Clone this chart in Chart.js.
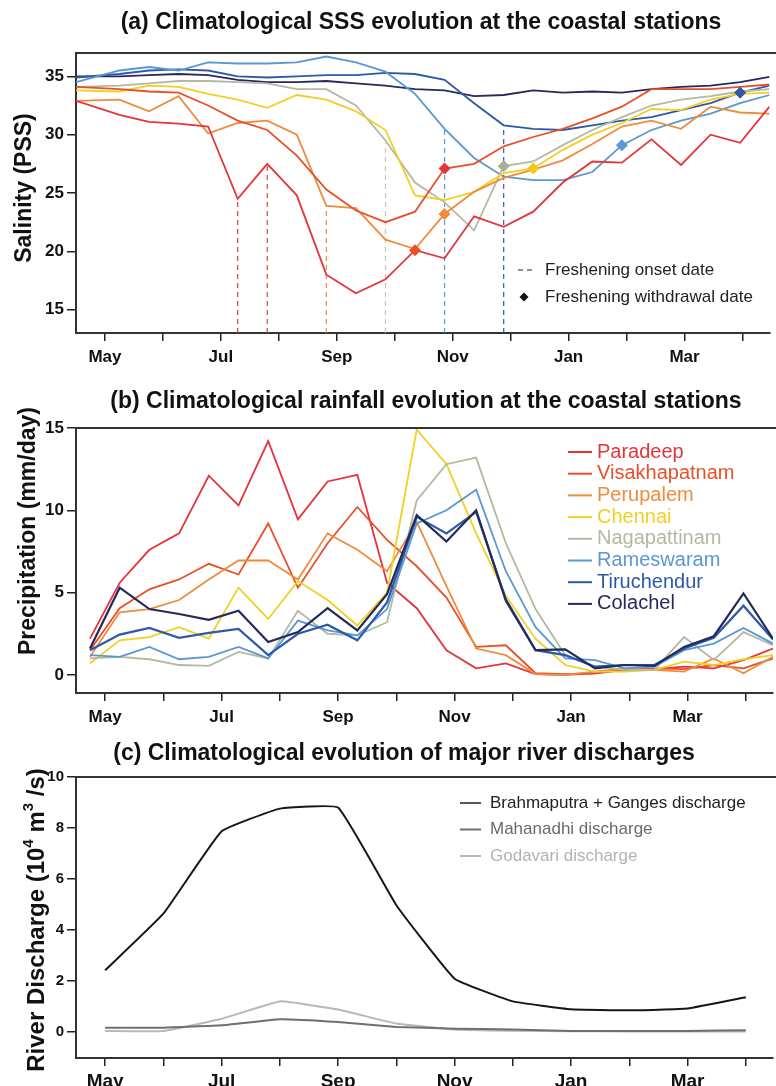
<!DOCTYPE html>
<html>
<head>
<meta charset="utf-8">
<script src="https://cdn.jsdelivr.net/npm/chart.js@4.4.0/dist/chart.umd.min.js"></script>
<style>
  html,body{margin:0;padding:0;background:#fff;}
  #wrap{position:relative;width:776px;height:1086px;overflow:hidden;}
  canvas{position:absolute;left:0;}
</style>
</head>
<body>
<div id="wrap">
  <canvas id="sss" width="776" height="370" style="top:0"></canvas>
  <canvas id="rain" width="776" height="360" style="top:370px"></canvas>
  <canvas id="river" width="776" height="356" style="top:730px"></canvas>
</div>
<script>
const FONT = "'Liberation Sans', Arial, Helvetica, sans-serif";

// x axis: days from 1 May, one tick per month
const monthDays = [0, 30, 60, 90, 120, 150, 180, 210, 240, 270, 300, 330];
const monthLabels = ['May', '', 'Jul', '', 'Sep', '', 'Nov', '', 'Jan', '', 'Mar', ''];

const stations = ['Paradeep', 'Visakhapatnam', 'Perupalem', 'Chennai', 'Nagapattinam', 'Rameswaram', 'Tiruchendur', 'Colachel'];
const stationColors = ['#e4343c', '#e8502a', '#ee8c3c', '#f2cf22', '#b3b9a3', '#5b97d1', '#2c5aa6', '#252a5a'];

// (a) salinity, semi-monthly
const sssDays = [-15, 7.5, 22.8, 38.1, 53.4, 68.7, 84, 99.3, 114.6, 129.9, 145.2, 160.5, 175.8, 191.1, 206.4, 221.7, 237, 252.3, 267.6, 282.9, 298.2, 313.5, 328.8, 344];
const sssParadeep = [32.9, 31.7, 31.1, 30.95, 30.7, 24.5, 27.5, 24.8, 18.0, 16.4, 17.6, 20.1, 19.4, 23.0, 22.1, 23.4, 25.9, 27.7, 27.6, 29.6, 27.4, 30.0, 29.3, 32.4];
const sssVisakhapatnam = [34.1, 33.9, 33.7, 33.6, 32.5, 31.2, 30.4, 28.2, 25.3, 23.5, 22.5, 23.4, 27.1, 27.5, 29.0, 29.8, 30.5, 31.4, 32.4, 33.9, 33.9, 33.9, 34.1, 34.3];
const sssPerupalem = [32.9, 33.0, 32.0, 33.3, 30.1, 31.0, 31.2, 30.0, 23.9, 23.7, 21.0, 20.2, 23.2, 25.1, 26.3, 27.0, 27.8, 29.2, 30.7, 31.2, 30.5, 32.4, 31.9, 31.8];
const sssChennai = [33.8, 33.7, 34.2, 34.1, 33.5, 33.0, 32.3, 33.4, 33.0, 32.0, 30.4, 24.8, 24.4, 25.1, 26.7, 27.1, 28.7, 30.0, 31.0, 32.2, 32.1, 33.0, 33.5, 33.6];
const sssNagapattinam = [34.1, 34.2, 34.4, 34.6, 34.6, 34.5, 34.4, 33.9, 33.9, 32.5, 29.5, 25.9, 24.2, 21.8, 27.3, 27.7, 29.1, 30.4, 31.5, 32.5, 33.0, 33.3, 33.7, 33.9];
const sssRameswaram = [34.5, 35.5, 35.8, 35.5, 36.2, 36.1, 36.1, 36.2, 36.7, 36.2, 35.4, 33.5, 30.5, 28.0, 26.4, 26.1, 26.1, 26.8, 29.1, 30.4, 31.2, 31.8, 32.7, 33.4];
const sssTiruchendur = [34.9, 35.2, 35.5, 35.6, 35.5, 35.0, 34.9, 35.0, 35.1, 35.1, 35.3, 35.2, 34.7, 32.7, 30.8, 30.5, 30.4, 30.8, 31.2, 31.5, 32.1, 32.7, 33.6, 34.2];
const sssColachel = [35.0, 35.0, 35.1, 35.2, 35.1, 34.7, 34.5, 34.5, 34.6, 34.4, 34.2, 33.9, 33.8, 33.3, 33.4, 33.8, 33.6, 33.7, 33.6, 33.9, 34.1, 34.2, 34.5, 34.95];
const sssSeries = [sssParadeep, sssVisakhapatnam, sssPerupalem, sssChennai, sssNagapattinam, sssRameswaram, sssTiruchendur, sssColachel];

// freshening onset (dashed) and withdrawal (diamonds)
const onsetDays = [68.7, 84, 114.6, 145.2, 175.8, 206.4];
const onsetSss = [24.5, 27.5, 23.8, 29.3, 30.4, 30.8];
const onsetColors = ['#e4343c', '#d24a3a', '#ee8c3c', '#c9c2b8', '#5b97d1', '#2c5aa6'];
const withdrawalDays = [160.5, 175.8, 175.8, 206.4, 221.7, 267.6, 328.8];
const withdrawalSss = [20.1, 27.1, 23.2, 27.3, 27.1, 29.1, 33.6];
const withdrawalColors = ['#e8502a', '#e4343c', '#ee8c3c', '#a9ae9a', '#f2c81f', '#5b97d1', '#2c5aa6'];

// (b) rainfall, semi-monthly
const rainDays = [-7.8, 7.5, 22.8, 38.1, 53.4, 68.7, 84, 99.3, 114.6, 129.9, 145.2, 160.5, 175.8, 191.1, 206.4, 221.7, 237, 252.3, 267.6, 282.9, 298.2, 313.5, 328.8, 344];
const rainParadeep = [2.2, 5.6, 7.6, 8.6, 12.1, 10.3, 14.2, 9.45, 11.75, 12.15, 5.6, 4.05, 1.5, 0.4, 0.7, 0.05, 0.0, 0.1, 0.3, 0.35, 0.5, 0.4, 0.9, 1.6];
const rainVisakhapatnam = [1.5, 4.05, 5.2, 5.8, 6.75, 6.1, 9.2, 5.3, 8.0, 10.2, 8.2, 6.6, 4.7, 1.7, 1.8, 0.1, 0.05, 0.1, 0.3, 0.4, 0.35, 0.6, 0.4, 1.0];
const rainPerupalem = [1.1, 3.8, 4.0, 4.55, 5.8, 6.95, 6.95, 5.8, 8.6, 7.6, 6.3, 9.3, 5.4, 1.6, 1.2, 0.05, 0.0, 0.2, 0.4, 0.3, 0.2, 1.0, 0.1, 1.1];
const rainChennai = [0.7, 2.1, 2.3, 2.9, 2.2, 5.3, 3.4, 5.7, 4.55, 3.0, 5.0, 14.9, 12.8, 8.6, 4.8, 2.2, 0.6, 0.2, 0.2, 0.3, 0.8, 0.6, 0.95, 1.2];
const rainNagapattinam = [1.0, 1.1, 0.95, 0.6, 0.55, 1.4, 1.0, 3.9, 2.5, 2.4, 3.2, 10.6, 12.8, 13.2, 8.0, 4.0, 1.2, 0.5, 0.3, 0.3, 2.3, 0.9, 2.6, 1.8];
const rainRameswaram = [1.2, 1.1, 1.7, 0.95, 1.1, 1.7, 1.0, 3.3, 2.7, 2.4, 4.0, 9.2, 10.0, 11.25, 6.3, 2.9, 1.0, 0.9, 0.4, 0.5, 1.5, 1.9, 2.85, 1.9];
const rainTiruchendur = [1.5, 2.45, 2.85, 2.25, 2.55, 2.8, 1.2, 2.5, 3.05, 2.1, 4.4, 9.6, 8.6, 9.9, 4.6, 1.5, 1.2, 0.5, 0.6, 0.6, 1.6, 2.25, 4.2, 2.15];
const rainColachel = [1.6, 5.3, 4.0, 3.7, 3.35, 3.9, 2.0, 2.6, 4.05, 2.7, 4.9, 9.7, 8.1, 10.0, 4.5, 1.5, 1.55, 0.4, 0.6, 0.55, 1.7, 2.35, 4.95, 2.2];
const rainSeries = [rainParadeep, rainVisakhapatnam, rainPerupalem, rainChennai, rainNagapattinam, rainRameswaram, rainTiruchendur, rainColachel];

// (c) river discharge, monthly (10^4 m3/s)
const riverNames = ['Brahmaputra + Ganges discharge', 'Mahanadhi discharge', 'Godavari discharge'];
const riverColors = ['#161616', '#6f6f6f', '#b8b8b8'];
const riverLegendColors = ['#222', '#6a6a6a', '#b2b2b2'];
const brahmaputraGanges = [2.42, 4.64, 7.87, 8.76, 8.8, 4.97, 2.09, 1.2, 0.89, 0.85, 0.92, 1.36];
const mahanadhi = [0.17, 0.17, 0.26, 0.5, 0.39, 0.2, 0.13, 0.1, 0.04, 0.04, 0.04, 0.07];
const godavari = [0.04, 0.04, 0.52, 1.2, 0.88, 0.33, 0.1, 0.05, 0.03, 0.02, 0.02, 0.02];
const riverSeries = [brahmaputraGanges, mahanadhi, godavari];

function pts(days, vals){ return days.map((d, i) => ({ x: d, y: vals[i] })); }

function axes(o){
  return {
    x: {
      type: 'linear', min: -15, max: 344,
      afterBuildTicks: s => { s.ticks = monthDays.map(v => ({ value: v })); },
      afterFit: s => { s.height = o.xHeight; },
      grid: { drawOnChartArea: false, drawTicks: true, tickLength: 8, color: '#222', lineWidth: 1.5 },
      border: { display: true, color: '#333', width: 2 },
      ticks: { autoSkip: false, maxRotation: 0, padding: o.xPad, color: '#111',
               font: { family: FONT, size: o.xFont, weight: 'bold' },
               callback: (v, i) => monthLabels[i] }
    },
    y: {
      min: o.yMin, max: o.yMax,
      afterBuildTicks: s => { s.ticks = o.yTicks.map(v => ({ value: v })); },
      afterFit: s => { s.width = 76; },
      grid: { drawOnChartArea: false, drawTicks: true, tickLength: 9, color: '#222', lineWidth: 1.5 },
      border: { display: true, color: '#333', width: 2 },
      ticks: { padding: 3, color: '#111', font: { family: FONT, size: o.yFont, weight: 'bold' } }
    }
  };
}

// titles, axis labels, legends and the top frame line
function decor(items){
  return {
    id: 'decor',
    afterDraw(chart){
      const ctx = chart.ctx, a = chart.chartArea;
      ctx.save();
      ctx.strokeStyle = '#333'; ctx.lineWidth = 2;
      ctx.beginPath(); ctx.moveTo(a.left - 1, a.top); ctx.lineTo(776, a.top); ctx.stroke();
      ctx.restore();
      items.forEach(t => {
        ctx.save();
        if(t.line){
          ctx.strokeStyle = t.color; ctx.lineWidth = t.width || 2;
          ctx.setLineDash(t.dash || []);
          ctx.beginPath(); ctx.moveTo(t.line[0], t.line[1]); ctx.lineTo(t.line[2], t.line[1]); ctx.stroke();
        } else if(t.diamond){
          const [x, y, r] = t.diamond;
          ctx.fillStyle = t.color;
          ctx.beginPath(); ctx.moveTo(x - r, y); ctx.lineTo(x, y - r); ctx.lineTo(x + r, y); ctx.lineTo(x, y + r); ctx.closePath(); ctx.fill();
        } else if(t.parts){
          // rotated label with superscripts
          ctx.translate(t.x, t.y); ctx.rotate(-Math.PI / 2);
          ctx.fillStyle = t.color || '#111'; ctx.textBaseline = 'middle'; ctx.textAlign = 'left';
          let total = 0;
          t.parts.forEach(p => { ctx.font = p.font; total += ctx.measureText(p.text).width; });
          let cx = -total / 2;
          t.parts.forEach(p => { ctx.font = p.font; ctx.fillText(p.text, cx, p.dy || 0); cx += ctx.measureText(p.text).width; });
        } else {
          ctx.font = t.font; ctx.fillStyle = t.color || '#111';
          ctx.textAlign = t.align || 'center'; ctx.textBaseline = 'middle';
          ctx.translate(t.x, t.y);
          if(t.rot) ctx.rotate(t.rot);
          ctx.fillText(t.text, 0, 0);
        }
        ctx.restore();
      });
    }
  };
}

const baseOpts = { responsive: false, animation: false, events: [],
  plugins: { legend: { display: false }, tooltip: { enabled: false }, title: { display: false } } };

// ---------- (a) SSS ----------
const sssSets = [];
sssSets.push({ type: 'scatter', data: pts(withdrawalDays, withdrawalSss), pointStyle: 'rectRot', pointRadius: 5.5,
  pointBackgroundColor: withdrawalColors, pointBorderColor: withdrawalColors, pointBorderWidth: 1, order: 0 });
stations.forEach((s, i) => sssSets.push({ label: s, data: pts(sssDays, sssSeries[i]), borderColor: stationColors[i],
  borderWidth: 1.8, pointRadius: 0, tension: 0, order: 1 }));
onsetDays.forEach((d, i) => sssSets.push({ data: [{ x: d, y: 13 }, { x: d, y: onsetSss[i] }], borderColor: onsetColors[i],
  borderWidth: 1.2, borderDash: [5, 4], pointRadius: 0, order: 2 }));

new Chart(document.getElementById('sss'), {
  type: 'line',
  data: { datasets: sssSets },
  options: Object.assign({}, baseOpts, {
    layout: { padding: { top: 53, right: 3, left: 0, bottom: 0 } },
    scales: axes({ yMin: 13, yMax: 37, yTicks: [15, 20, 25, 30, 35], xHeight: 37, xPad: 6, xFont: 17, yFont: 17 })
  }),
  plugins: [decor([
    { text: '(a) Climatological SSS evolution at the coastal stations', x: 421, y: 23, font: 'bold 23px ' + FONT },
    { text: 'Salinity (PSS)', x: 25, y: 188, rot: -Math.PI / 2, font: 'bold 23px ' + FONT },
    { line: [518, 270, 534], color: '#5d6f94', width: 1.5, dash: [5, 4] },
    { text: 'Freshening onset date', x: 545, y: 270, align: 'left', font: '17px ' + FONT, color: '#222' },
    { diamond: [524, 297, 4.5], color: '#111' },
    { text: 'Freshening withdrawal date', x: 545, y: 297, align: 'left', font: '17px ' + FONT, color: '#222' }
  ])]
});

// ---------- (b) rainfall ----------
const rainSets = stations.map((s, i) => ({ label: s, data: pts(rainDays, rainSeries[i]), borderColor: stationColors[i],
  borderWidth: i >= 6 ? 2.2 : 1.8, pointRadius: 0, tension: 0, order: 8 - i }));
const rainLegend = [];
stations.forEach((s, i) => {
  const y = 82 + i * 21.7;
  rainLegend.push({ line: [568, y, 592], color: stationColors[i], width: 2 });
  rainLegend.push({ text: s, x: 597, y: y, align: 'left', font: '20px ' + FONT, color: stationColors[i] });
});

new Chart(document.getElementById('rain'), {
  type: 'line',
  data: { datasets: rainSets },
  options: Object.assign({}, baseOpts, {
    layout: { padding: { top: 58, right: 3, left: 0, bottom: 0 } },
    scales: axes({ yMin: -1.1, yMax: 15, yTicks: [0, 5, 10, 15], xHeight: 37, xPad: 6, xFont: 17, yFont: 17 })
  }),
  plugins: [decor([
    { text: '(b) Climatological rainfall evolution at the coastal stations', x: 426, y: 32, font: 'bold 23px ' + FONT },
    { text: 'Precipitation (mm/day)', x: 29, y: 161, rot: -Math.PI / 2, font: 'bold 23px ' + FONT }
  ].concat(rainLegend))]
});

// ---------- (c) river discharge ----------
const riverSets = riverNames.map((n, i) => ({ label: n, data: pts(monthDays, riverSeries[i]), borderColor: riverColors[i],
  borderWidth: 2, pointRadius: 0, tension: 0.1, order: i }));
const riverLegend = [];
riverNames.forEach((n, i) => {
  const y = 73 + i * 26.5;
  riverLegend.push({ line: [460, y, 481], color: riverColors[i] === '#161616' ? '#555' : riverColors[i], width: 2 });
  riverLegend.push({ text: n, x: 490, y: y, align: 'left', font: '17px ' + FONT, color: riverLegendColors[i] });
});
const bold = 'bold 24px ' + FONT, sup = 'bold 15px ' + FONT;

new Chart(document.getElementById('river'), {
  type: 'line',
  data: { datasets: riverSets },
  options: Object.assign({}, baseOpts, {
    layout: { padding: { top: 47, right: 3, left: 0, bottom: 0 } },
    scales: axes({ yMin: -1.02, yMax: 10, yTicks: [0, 2, 4, 6, 8, 10], xHeight: 28, xPad: 4, xFont: 19, yFont: 15 })
  }),
  plugins: [decor([
    { text: '(c) Climatological evolution of major river discharges', x: 404, y: 24, font: 'bold 23px ' + FONT },
    { x: 37, y: 190, color: '#111', parts: [
      { text: 'River Discharge (10', font: bold },
      { text: '4', font: sup, dy: -8 },
      { text: ' m', font: bold },
      { text: '3', font: sup, dy: -8 },
      { text: ' /s)', font: bold }
    ] }
  ].concat(riverLegend))]
});
</script>
</body>
</html>
